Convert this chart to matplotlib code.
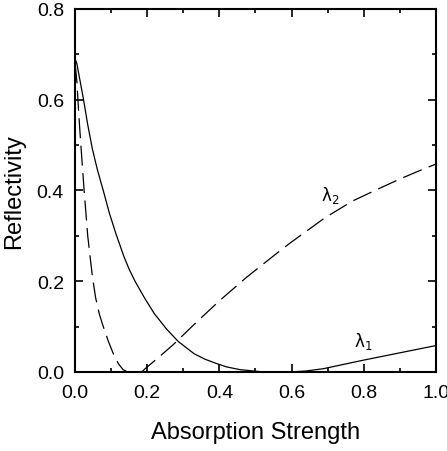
import matplotlib
matplotlib.use("Agg")
import matplotlib.pyplot as plt
from matplotlib.ticker import MultipleLocator, FormatStrFormatter

# lambda_1 (solid)
x1 = [0.0, 0.005, 0.023, 0.035, 0.048, 0.062, 0.078, 0.095, 0.113, 0.135, 0.15, 0.166,
      0.194, 0.22, 0.254, 0.286, 0.33, 0.36, 0.39, 0.42, 0.457, 0.52, 0.6, 0.64, 0.688,
      0.794, 0.9, 1.0]
y1 = [0.69, 0.679, 0.602, 0.545, 0.491, 0.445, 0.40, 0.35, 0.305, 0.255, 0.226, 0.20,
      0.161, 0.128, 0.094, 0.067, 0.04, 0.028, 0.019, 0.011, 0.005, 0.0, 0.0, 0.002, 0.007,
      0.025, 0.042, 0.058]

# lambda_2 (dashed)
x2 = [0.0, 0.005, 0.01, 0.016, 0.025, 0.035, 0.048, 0.057, 0.067, 0.078, 0.092, 0.106,
      0.12, 0.133, 0.145, 0.185, 0.194, 0.233, 0.272, 0.337, 0.402, 0.476, 0.568, 0.596,
      0.693, 0.77, 0.845, 0.9, 0.965, 1.0]
y2 = [0.68, 0.64, 0.57, 0.50, 0.40, 0.30, 0.21, 0.163, 0.128, 0.10, 0.068, 0.04,
      0.018, 0.005, 0.0, 0.0, 0.007, 0.033, 0.06, 0.11, 0.158, 0.209, 0.267, 0.284,
      0.34, 0.377, 0.405, 0.425, 0.447, 0.458]

plt.rcParams['font.family'] = ['Liberation Sans', 'DejaVu Sans']

fig = plt.figure(figsize=(4.47, 4.52), dpi=100)
ax = fig.add_axes([0.168, 0.175, 0.807, 0.803])

ax.plot(x1, y1, color="black", linewidth=0.9)
ax.plot(x2, y2, color="black", linewidth=0.9, dashes=(16, 6))

ax.text(0.706, 0.39, r"$\mathrm{\lambda}_2$", fontsize=12, ha="center", va="center")
ax.text(0.80, 0.069, r"$\mathrm{\lambda}_1$", fontsize=12, ha="center", va="center")

ax.set_xlim(0, 1.0)
ax.set_ylim(0, 0.8)
ax.xaxis.set_major_locator(MultipleLocator(0.2))
ax.xaxis.set_minor_locator(MultipleLocator(0.1))
ax.yaxis.set_major_locator(MultipleLocator(0.2))
ax.yaxis.set_minor_locator(MultipleLocator(0.1))
ax.xaxis.set_major_formatter(FormatStrFormatter("%.1f"))
ax.yaxis.set_major_formatter(FormatStrFormatter("%.1f"))
ax.tick_params(which="both", direction="in", top=True, right=True, labelsize=14, width=1.2)
ax.tick_params(which="major", length=6)
ax.tick_params(which="minor", length=3)
ax.tick_params(axis="x", which="major", pad=9)
ax.tick_params(axis="y", which="major", pad=8)
for s in ax.spines.values():
    s.set_linewidth(1.5)

ax.set_xlabel("Absorption Strength", fontsize=17, labelpad=14)
ax.set_ylabel("Reflectivity", fontsize=17, labelpad=8)

fig.savefig("out.png", dpi=100)
